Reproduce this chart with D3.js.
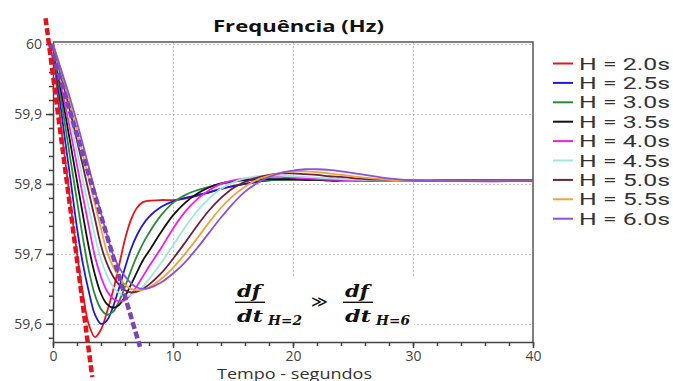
<!DOCTYPE html>
<html>
<head>
<meta charset="utf-8">
<script src="https://cdn.jsdelivr.net/npm/d3@7"></script>
<style>
  html, body { margin: 0; padding: 0; background: #fff; }
  svg { display: block; font-family: "Open Sans", sans-serif; }
</style>
</head>
<body>
<svg id="chart" width="673" height="381"></svg>
<script>
// ---- data ----
const timeSec = [0, 0.5, 1, 1.5, 2, 2.5, 3, 3.5, 4, 4.5, 5, 5.5, 6, 6.5, 7, 7.5, 8,
  9, 10, 11, 12, 13, 14, 15, 16, 17, 18, 19, 20, 21, 22, 23, 24, 26, 28, 30, 34, 40];

const seriesLabels = ['H = 2.0s', 'H = 2.5s', 'H = 3.0s', 'H = 3.5s', 'H = 4.0s',
  'H = 4.5s', 'H = 5.0s', 'H = 5.5s', 'H = 6.0s'];

const freqH20 = [60, 59.909, 59.835, 59.766, 59.700, 59.642, 59.598, 59.581, 59.592, 59.617, 59.647, 59.683, 59.721, 59.749, 59.766, 59.774, 59.776,
  59.777, 59.777, 59.779, 59.783, 59.788, 59.793, 59.797, 59.800, 59.803, 59.805, 59.806, 59.806, 59.806, 59.806, 59.805, 59.805,
  59.805, 59.805, 59.805, 59.805, 59.805];
const freqH25 = [60, 59.929, 59.863, 59.801, 59.737, 59.685, 59.645, 59.613, 59.600, 59.605, 59.624, 59.651, 59.680, 59.707, 59.727, 59.742, 59.753,
  59.767, 59.775, 59.780, 59.784, 59.788, 59.793, 59.797, 59.800, 59.803, 59.805, 59.806, 59.807, 59.807, 59.807, 59.806, 59.806,
  59.805, 59.805, 59.805, 59.805, 59.805];
const freqH30 = [60, 59.942, 59.885, 59.830, 59.776, 59.722, 59.675, 59.641, 59.621, 59.613, 59.617, 59.632, 59.653, 59.676, 59.697, 59.715, 59.730,
  59.755, 59.773, 59.784, 59.791, 59.796, 59.800, 59.803, 59.805, 59.806, 59.806, 59.806, 59.806, 59.806, 59.806, 59.805, 59.805,
  59.805, 59.805, 59.805, 59.805, 59.805];
const freqH35 = [60, 59.951, 59.902, 59.853, 59.804, 59.755, 59.708, 59.670, 59.643, 59.628, 59.623, 59.627, 59.639, 59.656, 59.674, 59.691, 59.704,
  59.731, 59.755, 59.773, 59.786, 59.795, 59.801, 59.804, 59.806, 59.807, 59.807, 59.807, 59.807, 59.806, 59.806, 59.805, 59.805,
  59.805, 59.805, 59.805, 59.805, 59.805];
const freqH40 = [60, 59.957, 59.914, 59.871, 59.827, 59.782, 59.738, 59.696, 59.667, 59.647, 59.636, 59.632, 59.634, 59.642, 59.654, 59.668, 59.682,
  59.708, 59.736, 59.760, 59.778, 59.791, 59.800, 59.805, 59.808, 59.809, 59.810, 59.810, 59.809, 59.808, 59.807, 59.806, 59.806,
  59.805, 59.805, 59.805, 59.805, 59.805];
const freqH45 = [60, 59.962, 59.925, 59.886, 59.846, 59.805, 59.765, 59.725, 59.692, 59.669, 59.653, 59.644, 59.640, 59.641, 59.646, 59.654, 59.664,
  59.687, 59.712, 59.738, 59.761, 59.779, 59.793, 59.802, 59.808, 59.811, 59.812, 59.812, 59.811, 59.810, 59.809, 59.808, 59.807,
  59.806, 59.805, 59.805, 59.805, 59.805];
const freqH50 = [60, 59.966, 59.933, 59.899, 59.862, 59.825, 59.787, 59.750, 59.712, 59.686, 59.668, 59.656, 59.648, 59.645, 59.646, 59.650, 59.656,
  59.672, 59.693, 59.716, 59.740, 59.762, 59.780, 59.794, 59.803, 59.809, 59.813, 59.815, 59.815, 59.814, 59.813, 59.811, 59.810,
  59.807, 59.806, 59.805, 59.805, 59.805];
const freqH55 = [60, 59.970, 59.940, 59.909, 59.876, 59.842, 59.806, 59.771, 59.736, 59.703, 59.682, 59.667, 59.656, 59.650, 59.648, 59.649, 59.652,
  59.664, 59.680, 59.700, 59.722, 59.745, 59.766, 59.783, 59.796, 59.806, 59.812, 59.816, 59.818, 59.818, 59.817, 59.815, 59.813,
  59.809, 59.806, 59.805, 59.804, 59.804];
const freqH60 = [60, 59.973, 59.946, 59.918, 59.888, 59.856, 59.823, 59.790, 59.758, 59.727, 59.699, 59.681, 59.668, 59.658, 59.652, 59.650, 59.651,
  59.659, 59.672, 59.688, 59.708, 59.730, 59.752, 59.772, 59.789, 59.801, 59.810, 59.816, 59.819, 59.821, 59.821, 59.820, 59.818,
  59.813, 59.808, 59.805, 59.804, 59.804];

// dashed df/dt tangents (start / end)
const tangentH2Time = [-0.62, 3.27];
const tangentH2Freq = [60.037, 59.524];
const tangentH6Time = [-0.25, 7.25];
const tangentH6Freq = [60.0, 59.567];

const xTickValues = [0, 10, 20, 30, 40];
const xTickLabels = ['0', '10', '20', '30', '40'];
const yTickValues = [59.6, 59.7, 59.8, 59.9, 60];
const yTickLabels = ['59,6', '59,7', '59,8', '59,9', '60'];

const allSeries = [freqH20, freqH25, freqH30, freqH35, freqH40, freqH45, freqH50, freqH55, freqH60];
const colors = ['#e8161b', '#1a1adc', '#2a8a3a', '#111111', '#f01ef0',
  '#9fe8df', '#6e1f3e', '#f2a23a', '#8c52d6'];

// ---- layout ----
const plot = { left: 53, right: 533, top: 42, bottom: 342 };
const svg = d3.select('#chart');

const x = d3.scaleLinear().domain([0, 40]).range([plot.left, plot.right]);
const y = d3.scaleLinear().domain([59.574, 60.003]).range([plot.bottom, plot.top]);

// grid lines
const grid = svg.append('g').attr('class', 'grid')
  .attr('stroke', '#c4c4c4').attr('stroke-width', 1).attr('stroke-dasharray', '2,2');
grid.selectAll('.gy').data(yTickValues).join('line')
  .attr('x1', plot.left).attr('x2', plot.right)
  .attr('y1', d => Math.round(y(d)) + 0.5).attr('y2', d => Math.round(y(d)) + 0.5);
grid.selectAll('.gx').data(xTickValues.slice(1, -1)).join('line')
  .attr('x1', d => Math.round(x(d)) + 0.5).attr('x2', d => Math.round(x(d)) + 0.5)
  .attr('y1', plot.top).attr('y2', plot.bottom);

// white box behind the formula
svg.append('rect')
  .attr('x', 232).attr('y', 277).attr('width', 182).attr('height', 63)
  .attr('fill', '#fff');

// frame (top and right)
svg.append('path')
  .attr('d', `M${plot.left},${plot.top}H${plot.right}V${plot.bottom}`)
  .attr('fill', 'none').attr('stroke', '#555').attr('stroke-width', 1.5);

// axes
svg.append('g').attr('transform', `translate(${plot.left},0)`)
  .call(d3.axisLeft(y).tickValues(yTickValues)
    .tickFormat((d, i) => yTickLabels[i]).tickSize(7).tickPadding(4).tickSizeOuter(0));
svg.append('g').attr('transform', `translate(${plot.left},0)`)
  .call(d3.axisLeft(y).tickValues(d3.range(59.58, 60, 0.02)).tickFormat('').tickSize(4).tickSizeOuter(0))
  .select('.domain').remove();

svg.append('g').attr('transform', `translate(0,${plot.bottom})`)
  .call(d3.axisBottom(x).tickValues(xTickValues)
    .tickFormat((d, i) => xTickLabels[i]).tickSize(6).tickPadding(3).tickSizeOuter(0));
svg.append('g').attr('transform', `translate(0,${plot.bottom})`)
  .call(d3.axisBottom(x).tickValues(d3.range(0, 41, 2)).tickFormat('').tickSize(4).tickSizeOuter(0))
  .select('.domain').remove();

svg.selectAll('.domain, .tick line').attr('stroke', '#444').attr('stroke-width', 1.5);
svg.selectAll('.tick text')
  .style('font-size', '14px').style('font-family', '"Open Sans", sans-serif').attr('fill', '#444');

// curves
const line = d3.line()
  .x((d, i) => x(timeSec[i]))
  .y(d => y(d))
  .curve(d3.curveCatmullRom.alpha(0.5));

svg.append('g').selectAll('path').data(allSeries).join('path')
  .attr('d', line)
  .attr('fill', 'none')
  .attr('stroke', (d, i) => colors[i])
  .attr('stroke-width', 1.8);

// dashed tangents
const straight = d3.line().x(d => x(d[0])).y(d => y(d[1]));
svg.append('path')
  .attr('d', straight(d3.zip(tangentH6Time, tangentH6Freq)))
  .attr('stroke', '#7b45b5').attr('stroke-width', 4.5).attr('stroke-dasharray', '7,3').attr('fill', 'none');
svg.append('path')
  .attr('d', straight(d3.zip(tangentH2Time, tangentH2Freq)))
  .attr('stroke', '#e0141e').attr('stroke-width', 4.5).attr('stroke-dasharray', '7,3').attr('fill', 'none');

// title + axis title
svg.append('text')
  .attr('x', 213).attr('y', 31.5)
  .attr('textLength', 171).attr('lengthAdjust', 'spacingAndGlyphs')
  .style('font-size', '16.5px').style('font-weight', 700).attr('fill', '#111')
  .text('Frequência (Hz)');
svg.append('text')
  .attr('x', 217).attr('y', 378.5)
  .attr('textLength', 155).attr('lengthAdjust', 'spacingAndGlyphs')
  .style('font-size', '14px').attr('fill', '#333')
  .text('Tempo - segundos');

// legend
const legend = svg.append('g').selectAll('g').data(seriesLabels).join('g')
  .attr('transform', (d, i) => `translate(553,${63.5 + i * 19.4})`);
legend.append('line')
  .attr('x1', 0).attr('x2', 20)
  .attr('stroke', (d, i) => colors[i]).attr('stroke-width', 2);
legend.append('text')
  .attr('x', 26).attr('y', 6)
  .attr('textLength', 91).attr('lengthAdjust', 'spacingAndGlyphs')
  .style('font-family', 'Roboto, sans-serif').style('font-size', '16.5px').attr('fill', '#333')
  .text(d => d);

// formula  df/dt(H=2) >> df/dt(H=6)
const formula = svg.append('g')
  .style('font-family', '"DejaVu Serif", serif').style('font-weight', 700).style('font-style', 'italic')
  .attr('fill', '#111');
function fraction(x0, sub) {
  formula.append('text').attr('x', x0 + 2).attr('y', 297)
    .attr('textLength', 24).attr('lengthAdjust', 'spacingAndGlyphs')
    .style('font-size', '17px').text('df');
  formula.append('line').attr('x1', x0).attr('x2', x0 + 30)
    .attr('y1', 302.3).attr('y2', 302.3).attr('stroke', '#111').attr('stroke-width', 1.4);
  formula.append('text').attr('x', x0 + 2).attr('y', 321.5)
    .attr('textLength', 26).attr('lengthAdjust', 'spacingAndGlyphs')
    .style('font-size', '17px').text('dt');
  formula.append('text').attr('x', x0 + 33).attr('y', 325)
    .attr('textLength', 34).attr('lengthAdjust', 'spacingAndGlyphs')
    .style('font-size', '13.5px').text(sub);
}
fraction(235, 'H=2');
fraction(343, 'H=6');
formula.append('text').attr('x', 311).attr('y', 307)
  .style('font-size', '16px').style('font-style', 'normal').style('font-weight', 400)
  .text('≫');
</script>
</body>
</html>
